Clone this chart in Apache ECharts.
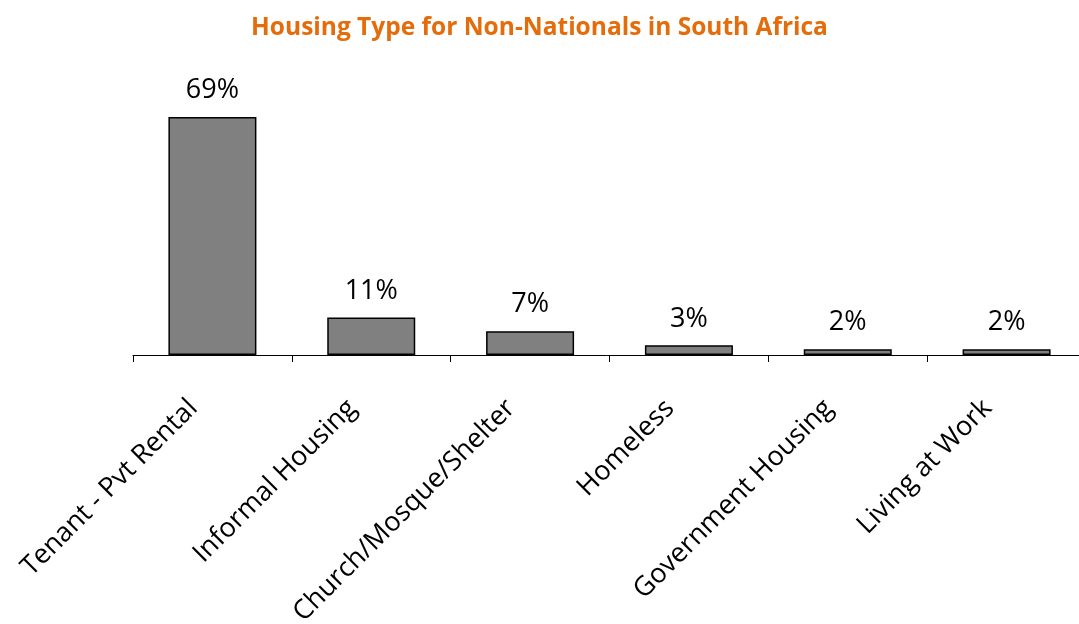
<!DOCTYPE html>
<html lang="en">
<head>
    <meta charset="UTF-8">
    <title>Housing Type for Non-Nationals in South Africa</title>
    <script src="https://cdn.jsdelivr.net/npm/echarts@6/dist/echarts.min.js"></script>
    <style>
        html, body { margin: 0; padding: 0; background: #fff; }
        #chart { width: 1079px; height: 624px; }
    </style>
</head>
<body>
    <div id="chart"></div>
    <script>
        // housing types
        const categories = ['Tenant - Pvt Rental', 'Informal Housing', 'Church/Mosque/Shelter',
                            'Homeless', 'Government Housing', 'Living at Work']
        // share of non-nationals, percent
        const shares = [69, 10.9, 6.9, 2.8, 1.7, 1.7]

        const chart = echarts.init(document.getElementById('chart'))
        chart.setOption({
            animation: false,
            title: {
                text: 'Housing Type for Non-Nationals in South Africa',
                left: 'center',
                top: 11,
                textStyle: { fontFamily: 'Open Sans', fontSize: 24.5, fontWeight: 'bold', color: '#E46C0A' }
            },
            grid: { left: 133, top: 79, width: 953, height: 276, outerBoundsMode: 'none' },
            xAxis: {
                type: 'category',
                data: categories,
                axisLine: { lineStyle: { color: '#000', width: 1 } },
                axisTick: { show: true, length: 7, lineStyle: { color: '#000', width: 1 } },
                axisLabel: {
                    rotate: 45,
                    margin: 30,
                    padding: [0, 27, 0, 0],
                    interval: 0,
                    fontFamily: 'Open Sans',
                    fontSize: 27,
                    color: '#000'
                }
            },
            yAxis: { type: 'value', min: 0, max: 80, show: false },
            series: [{
                type: 'bar',
                data: shares,
                barWidth: 88,
                itemStyle: { color: '#808080', borderColor: '#000', borderWidth: 1.5 },
                label: {
                    show: true,
                    position: 'top',
                    distance: 13,
                    fontFamily: 'Open Sans',
                    fontSize: 27,
                    color: '#000',
                    formatter: p => Math.round(p.value) + '%'
                }
            }]
        })
    </script>
</body>
</html>
